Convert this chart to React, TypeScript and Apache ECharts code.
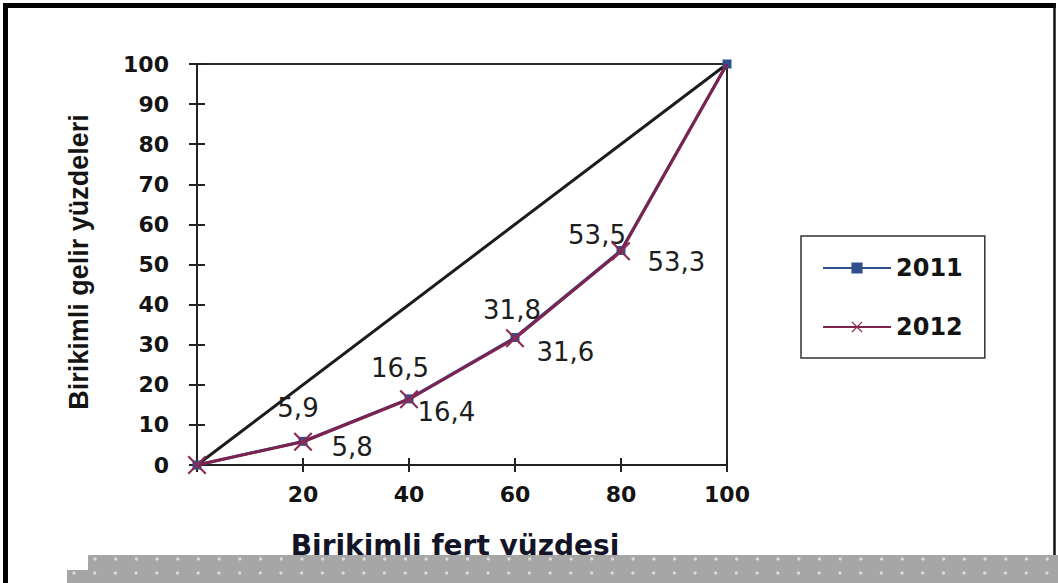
import React, { useEffect, useRef } from "react";
import * as echarts from "echarts";

// ---- data ----
const xPercent = [0, 20, 40, 60, 80, 100];
const income2011 = [0, 5.9, 16.5, 31.8, 53.5, 100];
const income2012 = [0, 5.8, 16.4, 31.6, 53.3, 100];
const equalityX = [0, 100];
const equalityY = [0, 100];
const seriesNames = ["2011", "2012"];
const xTitle = "Birikimli fert yüzdesi";
const yTitle = "Birikimli gelir yüzdeleri";

// ---- styles (label offsets per point, not data) ----
const off2011: (number[] | null)[] = [null, [-5, -11], [-9, -8], [-3, -5], [-24, 7], null];
const off2012: (number[] | null)[] = [null, [14, 5], [-6, 13], [7, 14], [12, 11], null];

const C2011 = "#2f4f8f";
const C2012 = "#7d2350";
const XMARK = "path://M0,0.8L0.8,0L5,4.2L9.2,0L10,0.8L5.8,5L10,9.2L9.2,10L5,5.8L0.8,10L0,9.2L4.2,5Z";

const fmt = (v: number) => v.toFixed(1).replace(".", ",");

export default function App() {
  const ref = useRef<HTMLDivElement>(null);
  useEffect(() => {
    if (!ref.current) return;
    const chart = echarts.init(ref.current, null, { renderer: "svg" });

    const d2011 = xPercent.map((x, i) => {
      const o = off2011[i];
      return {
        value: [x, income2011[i]],
        label: o
          ? { show: true, position: "top", offset: o, formatter: () => fmt(income2011[i]) }
          : { show: false },
      };
    });
    const d2012 = xPercent.map((x, i) => {
      const o = off2012[i];
      const item: any = {
        value: [x, income2012[i]],
        label: o
          ? { show: true, position: "right", offset: o, formatter: () => fmt(income2012[i]) }
          : { show: false },
      };
      if (i === xPercent.length - 1) item.symbol = "none";
      return item;
    });

    const dots: any[] = [];
    for (let x = 95; x < 1058; x += 20.7) {
      dots.push({ type: "circle", shape: { cx: x, cy: 559, r: 1.6 }, style: { fill: "#dcdcdc" }, z: 102 });
    }
    for (let x = 74; x < 1058; x += 20.7) {
      dots.push({ type: "circle", shape: { cx: x, cy: 573, r: 1.6 }, style: { fill: "#dcdcdc" }, z: 102 });
    }

    const labelFont = {
      show: true,
      fontFamily: "DejaVu Sans",
      fontWeight: "bold" as const,
      fontSize: 22,
      color: "#141414",
    };
    const dataLabelStyle = {
      fontFamily: "DejaVu Sans",
      fontSize: 26,
      color: "#1e1e1e",
    };

    chart.setOption({
      animation: false,
      backgroundColor: "#ffffff",
      grid: {
        left: 197,
        right: 331,
        top: 64,
        bottom: 118,
        show: true,
        borderColor: "#2a2a2a",
        borderWidth: 2,
        backgroundColor: "transparent",
      },
      xAxis: [
        {
          type: "value",
          min: 0,
          max: 100,
          interval: 20,
          position: "bottom",
          axisLine: { show: true, lineStyle: { color: "#222", width: 2 } },
          axisTick: { show: true, inside: false, length: 7, lineStyle: { color: "#222", width: 2 } },
          axisLabel: { ...labelFont, margin: 18, formatter: (v: number) => (v === 0 ? "" : String(v)) },
          splitLine: { show: false },
        },
        {
          type: "value",
          min: 0,
          max: 100,
          interval: 20,
          position: "bottom",
          axisLine: { show: false },
          axisTick: { show: true, inside: true, length: 7, lineStyle: { color: "#222", width: 2 } },
          axisLabel: { show: false },
          splitLine: { show: false },
        },
      ],
      yAxis: [
        {
          type: "value",
          min: 0,
          max: 100,
          interval: 10,
          position: "left",
          axisLine: { show: true, lineStyle: { color: "#222", width: 2 } },
          axisTick: { show: true, inside: false, length: 8, lineStyle: { color: "#222", width: 2 } },
          axisLabel: { ...labelFont, margin: 28 },
          splitLine: { show: false },
        },
        {
          type: "value",
          min: 0,
          max: 100,
          interval: 10,
          position: "left",
          axisLine: { show: false },
          axisTick: { show: true, inside: true, length: 8, lineStyle: { color: "#222", width: 2 } },
          axisLabel: { show: false },
          splitLine: { show: false },
        },
      ],
      legend: {
        data: seriesNames,
        orient: "vertical",
        left: 801,
        top: 236,
        padding: [19, 22, 18, 21],
        itemGap: 33,
        itemWidth: 68,
        itemHeight: 14,
        borderColor: "#333",
        borderWidth: 1.5,
        textStyle: {
          fontFamily: "DejaVu Sans",
          fontWeight: "bold",
          fontSize: 24,
          lineHeight: 26,
          color: "#141414",
        },
        selectedMode: false,
      },
      series: [
        {
          name: "equality",
          type: "line",
          data: equalityX.map((x, i) => [x, equalityY[i]]),
          symbol: "none",
          lineStyle: { color: "#1c1c1c", width: 3 },
          silent: true,
          z: 2,
        },
        {
          name: seriesNames[0],
          type: "line",
          data: d2011,
          symbol: "rect",
          symbolSize: 9,
          itemStyle: { color: C2011 },
          lineStyle: { color: C2011, width: 3 },
          label: dataLabelStyle,
          z: 3,
        },
        {
          name: seriesNames[1],
          type: "line",
          data: d2012,
          symbol: XMARK,
          symbolSize: 19,
          itemStyle: { color: "#8a2e55" },
          lineStyle: { color: C2012, width: 3 },
          label: dataLabelStyle,
          z: 4,
        },
      ],
      graphic: [
        {
          type: "text",
          x: 79,
          y: 262,
          rotation: Math.PI / 2,
          style: {
            text: yTitle,
            fontFamily: "Liberation Sans",
            fontWeight: "bold",
            fontSize: 27,
            fill: "#141414",
            align: "center",
            verticalAlign: "middle",
          },
          z: 50,
        },
        {
          type: "text",
          x: 455,
          y: 545,
          style: {
            text: xTitle,
            fontFamily: "DejaVu Sans",
            fontWeight: "bold",
            fontSize: 28,
            fill: "#141428",
            align: "center",
            verticalAlign: "middle",
          },
          z: 50,
        },
        {
          type: "line",
          shape: { x1: 5.5, y1: 3, x2: 5.5, y2: 583 },
          style: { stroke: "#000", lineWidth: 5 },
          z: 99,
        },
        {
          type: "line",
          shape: { x1: 3, y1: 5.5, x2: 1056, y2: 5.5 },
          style: { stroke: "#000", lineWidth: 5 },
          z: 99,
        },
        {
          type: "line",
          shape: { x1: 1054.5, y1: 3, x2: 1054.5, y2: 583 },
          style: { stroke: "#111", lineWidth: 2.5 },
          z: 99,
        },
        {
          type: "rect",
          shape: { x: 88, y: 555, width: 1000, height: 40 },
          style: { fill: "#a6a6a6" },
          z: 100,
        },
        {
          type: "rect",
          shape: { x: 67, y: 570, width: 40, height: 30 },
          style: { fill: "#a6a6a6" },
          z: 100,
        },
        ...dots,
      ],
    });
    return () => chart.dispose();
  }, []);
  return (
    <div
      ref={ref}
      style={{ position: "fixed", left: 0, top: 0, width: 1058, height: 583 }}
    />
  );
}
